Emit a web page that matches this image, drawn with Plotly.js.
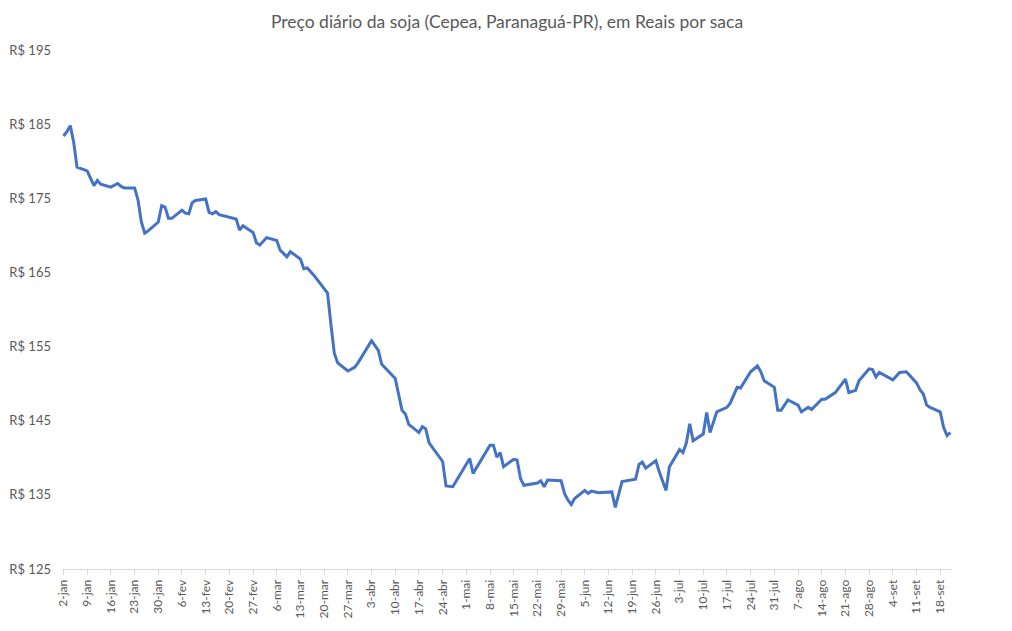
<!DOCTYPE html>
<html>
<head>
<meta charset="utf-8">
<script src="https://cdn.plot.ly/plotly-3.0.1.min.js"></script>
<style>html,body{margin:0;padding:0;background:#fff;}#chart{width:1012px;height:631px;}</style>
</head>
<body>
<div id="chart"></div>
<script>
const dates = [
 '2023-01-02','2023-01-03','2023-01-04','2023-01-05','2023-01-06','2023-01-09','2023-01-10','2023-01-11','2023-01-12','2023-01-13',
 '2023-01-16','2023-01-17','2023-01-18','2023-01-19','2023-01-20','2023-01-23','2023-01-24','2023-01-25','2023-01-26','2023-01-27',
 '2023-01-30','2023-01-31','2023-02-01','2023-02-02','2023-02-03','2023-02-06','2023-02-07','2023-02-08','2023-02-09','2023-02-10',
 '2023-02-13','2023-02-14','2023-02-15','2023-02-16','2023-02-17','2023-02-22','2023-02-23','2023-02-24','2023-02-27','2023-02-28',
 '2023-03-01','2023-03-03','2023-03-06','2023-03-07','2023-03-08','2023-03-09','2023-03-10','2023-03-13','2023-03-14','2023-03-15',
 '2023-03-17','2023-03-21','2023-03-22','2023-03-23','2023-03-24','2023-03-27','2023-03-29','2023-03-30','2023-04-03','2023-04-05',
 '2023-04-06','2023-04-10','2023-04-12','2023-04-13','2023-04-14','2023-04-17','2023-04-18','2023-04-19','2023-04-20','2023-04-24',
 '2023-04-25','2023-04-26','2023-04-27','2023-05-02','2023-05-03','2023-05-08','2023-05-09','2023-05-10','2023-05-11','2023-05-12',
 '2023-05-15','2023-05-16','2023-05-17','2023-05-18','2023-05-22','2023-05-23','2023-05-24','2023-05-25','2023-05-29','2023-05-30',
 '2023-05-31','2023-06-01','2023-06-02','2023-06-05','2023-06-06','2023-06-07','2023-06-09','2023-06-13','2023-06-14','2023-06-16',
 '2023-06-19','2023-06-20','2023-06-21','2023-06-22','2023-06-23','2023-06-26','2023-06-27','2023-06-29','2023-06-30','2023-07-03',
 '2023-07-04','2023-07-05','2023-07-06','2023-07-07','2023-07-10','2023-07-11','2023-07-12','2023-07-14','2023-07-17','2023-07-18',
 '2023-07-20','2023-07-21','2023-07-24','2023-07-25','2023-07-26','2023-07-27','2023-07-28','2023-07-31','2023-08-01','2023-08-02',
 '2023-08-04','2023-08-07','2023-08-08','2023-08-10','2023-08-11','2023-08-14','2023-08-15','2023-08-18','2023-08-21','2023-08-22',
 '2023-08-24','2023-08-25','2023-08-28','2023-08-29','2023-08-30','2023-08-31','2023-09-04','2023-09-06','2023-09-08','2023-09-11',
 '2023-09-12','2023-09-13','2023-09-14','2023-09-15','2023-09-18','2023-09-19','2023-09-20','2023-09-21'
];
const prices = [
 183.4,184.0,184.8,182.6,179.2,178.7,177.7,176.7,177.4,176.9,
 176.5,176.8,177.0,176.6,176.4,176.4,174.8,171.8,170.3,170.6,
 171.8,174.0,173.8,172.3,172.3,173.4,173.0,172.9,174.4,174.7,
 174.9,173.1,172.9,173.2,172.8,172.2,170.7,171.3,170.4,169.0,
 168.7,169.7,169.3,168.0,167.5,167.1,167.8,166.8,165.5,165.6,
 164.6,162.2,158.0,154.1,152.8,151.7,152.2,152.8,155.8,154.5,
 152.6,150.7,146.4,145.9,144.5,143.4,144.2,143.9,142.0,139.5,
 136.2,136.1,136.1,139.9,137.9,141.7,141.7,140.1,140.7,138.8,
 139.8,139.7,137.2,136.3,136.6,136.9,136.1,137.0,136.9,135.2,
 134.3,133.7,134.5,135.6,135.2,135.5,135.3,135.4,133.3,136.8,
 137.0,137.1,139.1,139.4,138.6,139.6,138.1,135.6,138.8,141.1,
 140.7,142.0,144.6,142.3,143.2,146.1,143.4,146.2,146.8,147.4,
 149.5,149.4,151.6,152.0,152.4,151.6,150.4,149.5,146.4,146.4,
 147.8,147.1,146.2,146.8,146.5,147.9,147.9,148.8,150.6,148.8,
 149.1,150.4,152.0,151.9,150.9,151.5,150.5,151.5,151.6,150.1,
 149.2,148.6,147.1,146.8,146.2,144.1,143.0,143.4
];
const tickDates = ['2023-01-02','2023-01-09','2023-01-16','2023-01-23','2023-01-30','2023-02-06','2023-02-13','2023-02-20','2023-02-27',
 '2023-03-06','2023-03-13','2023-03-20','2023-03-27','2023-04-03','2023-04-10','2023-04-17','2023-04-24','2023-05-01','2023-05-08',
 '2023-05-15','2023-05-22','2023-05-29','2023-06-05','2023-06-12','2023-06-19','2023-06-26','2023-07-03','2023-07-10','2023-07-17',
 '2023-07-24','2023-07-31','2023-08-07','2023-08-14','2023-08-21','2023-08-28','2023-09-04','2023-09-11','2023-09-18'];
const tickLabels = ['2-jan','9-jan','16-jan','23-jan','30-jan','6-fev','13-fev','20-fev','27-fev',
 '6-mar','13-mar','20-mar','27-mar','3-abr','10-abr','17-abr','24-abr','1-mai','8-mai',
 '15-mai','22-mai','29-mai','5-jun','12-jun','19-jun','26-jun','3-jul','10-jul','17-jul',
 '24-jul','31-jul','7-ago','14-ago','21-ago','28-ago','4-set','11-set','18-set'];
const yTicks = [125,135,145,155,165,175,185,195];
const yLabels = ['R$ 125','R$ 135','R$ 145','R$ 155','R$ 165','R$ 175','R$ 185','R$ 195'];
const chartTitle = 'Preço diário da soja (Cepea, Paranaguá-PR), em Reais por saca';

const trace = {
  x: dates, y: prices, type: 'scatter', mode: 'lines',
  line: {color: '#4472C4', width: 3, shape: 'linear'},
  hoverinfo: 'x+y'
};
const layout = {
  width: 1012, height: 631,
  paper_bgcolor: '#ffffff', plot_bgcolor: '#ffffff',
  margin: {l: 62, r: 60, t: 50, b: 62},
  font: {family: 'Lato, Carlito, "Open Sans", sans-serif', color: '#595959'},
  title: {text: chartTitle, font: {size: 17.5, color: '#595959', family: 'Lato, sans-serif'},
          x: 0.5, xanchor: 'center', xref: 'paper', y: 0.965, yref: 'container', yanchor: 'middle'},
  showlegend: false,
  xaxis: {
    type: 'date', range: ['2023-01-01 13:20', '2023-09-21 11:30'],
    tickmode: 'array', tickvals: tickDates, ticktext: tickLabels,
    tickangle: -90, tickfont: {size: 12, color: '#595959'},
    ticks: 'outside', ticklen: 5, tickcolor: '#d9d9d9', tickwidth: 1,
    showline: true, linecolor: '#d9d9d9', linewidth: 1,
    showgrid: false, zeroline: false, fixedrange: true
  },
  yaxis: {
    range: [125, 195], tickmode: 'array', tickvals: yTicks, ticktext: yLabels,
    tickfont: {size: 13, color: '#595959'},
    showgrid: false, zeroline: false, showline: false, ticks: '',
    ticklabelstandoff: 10, fixedrange: true
  }
};
Plotly.newPlot('chart', [trace], layout, {displayModeBar: false, staticPlot: true});
</script>
</body>
</html>
